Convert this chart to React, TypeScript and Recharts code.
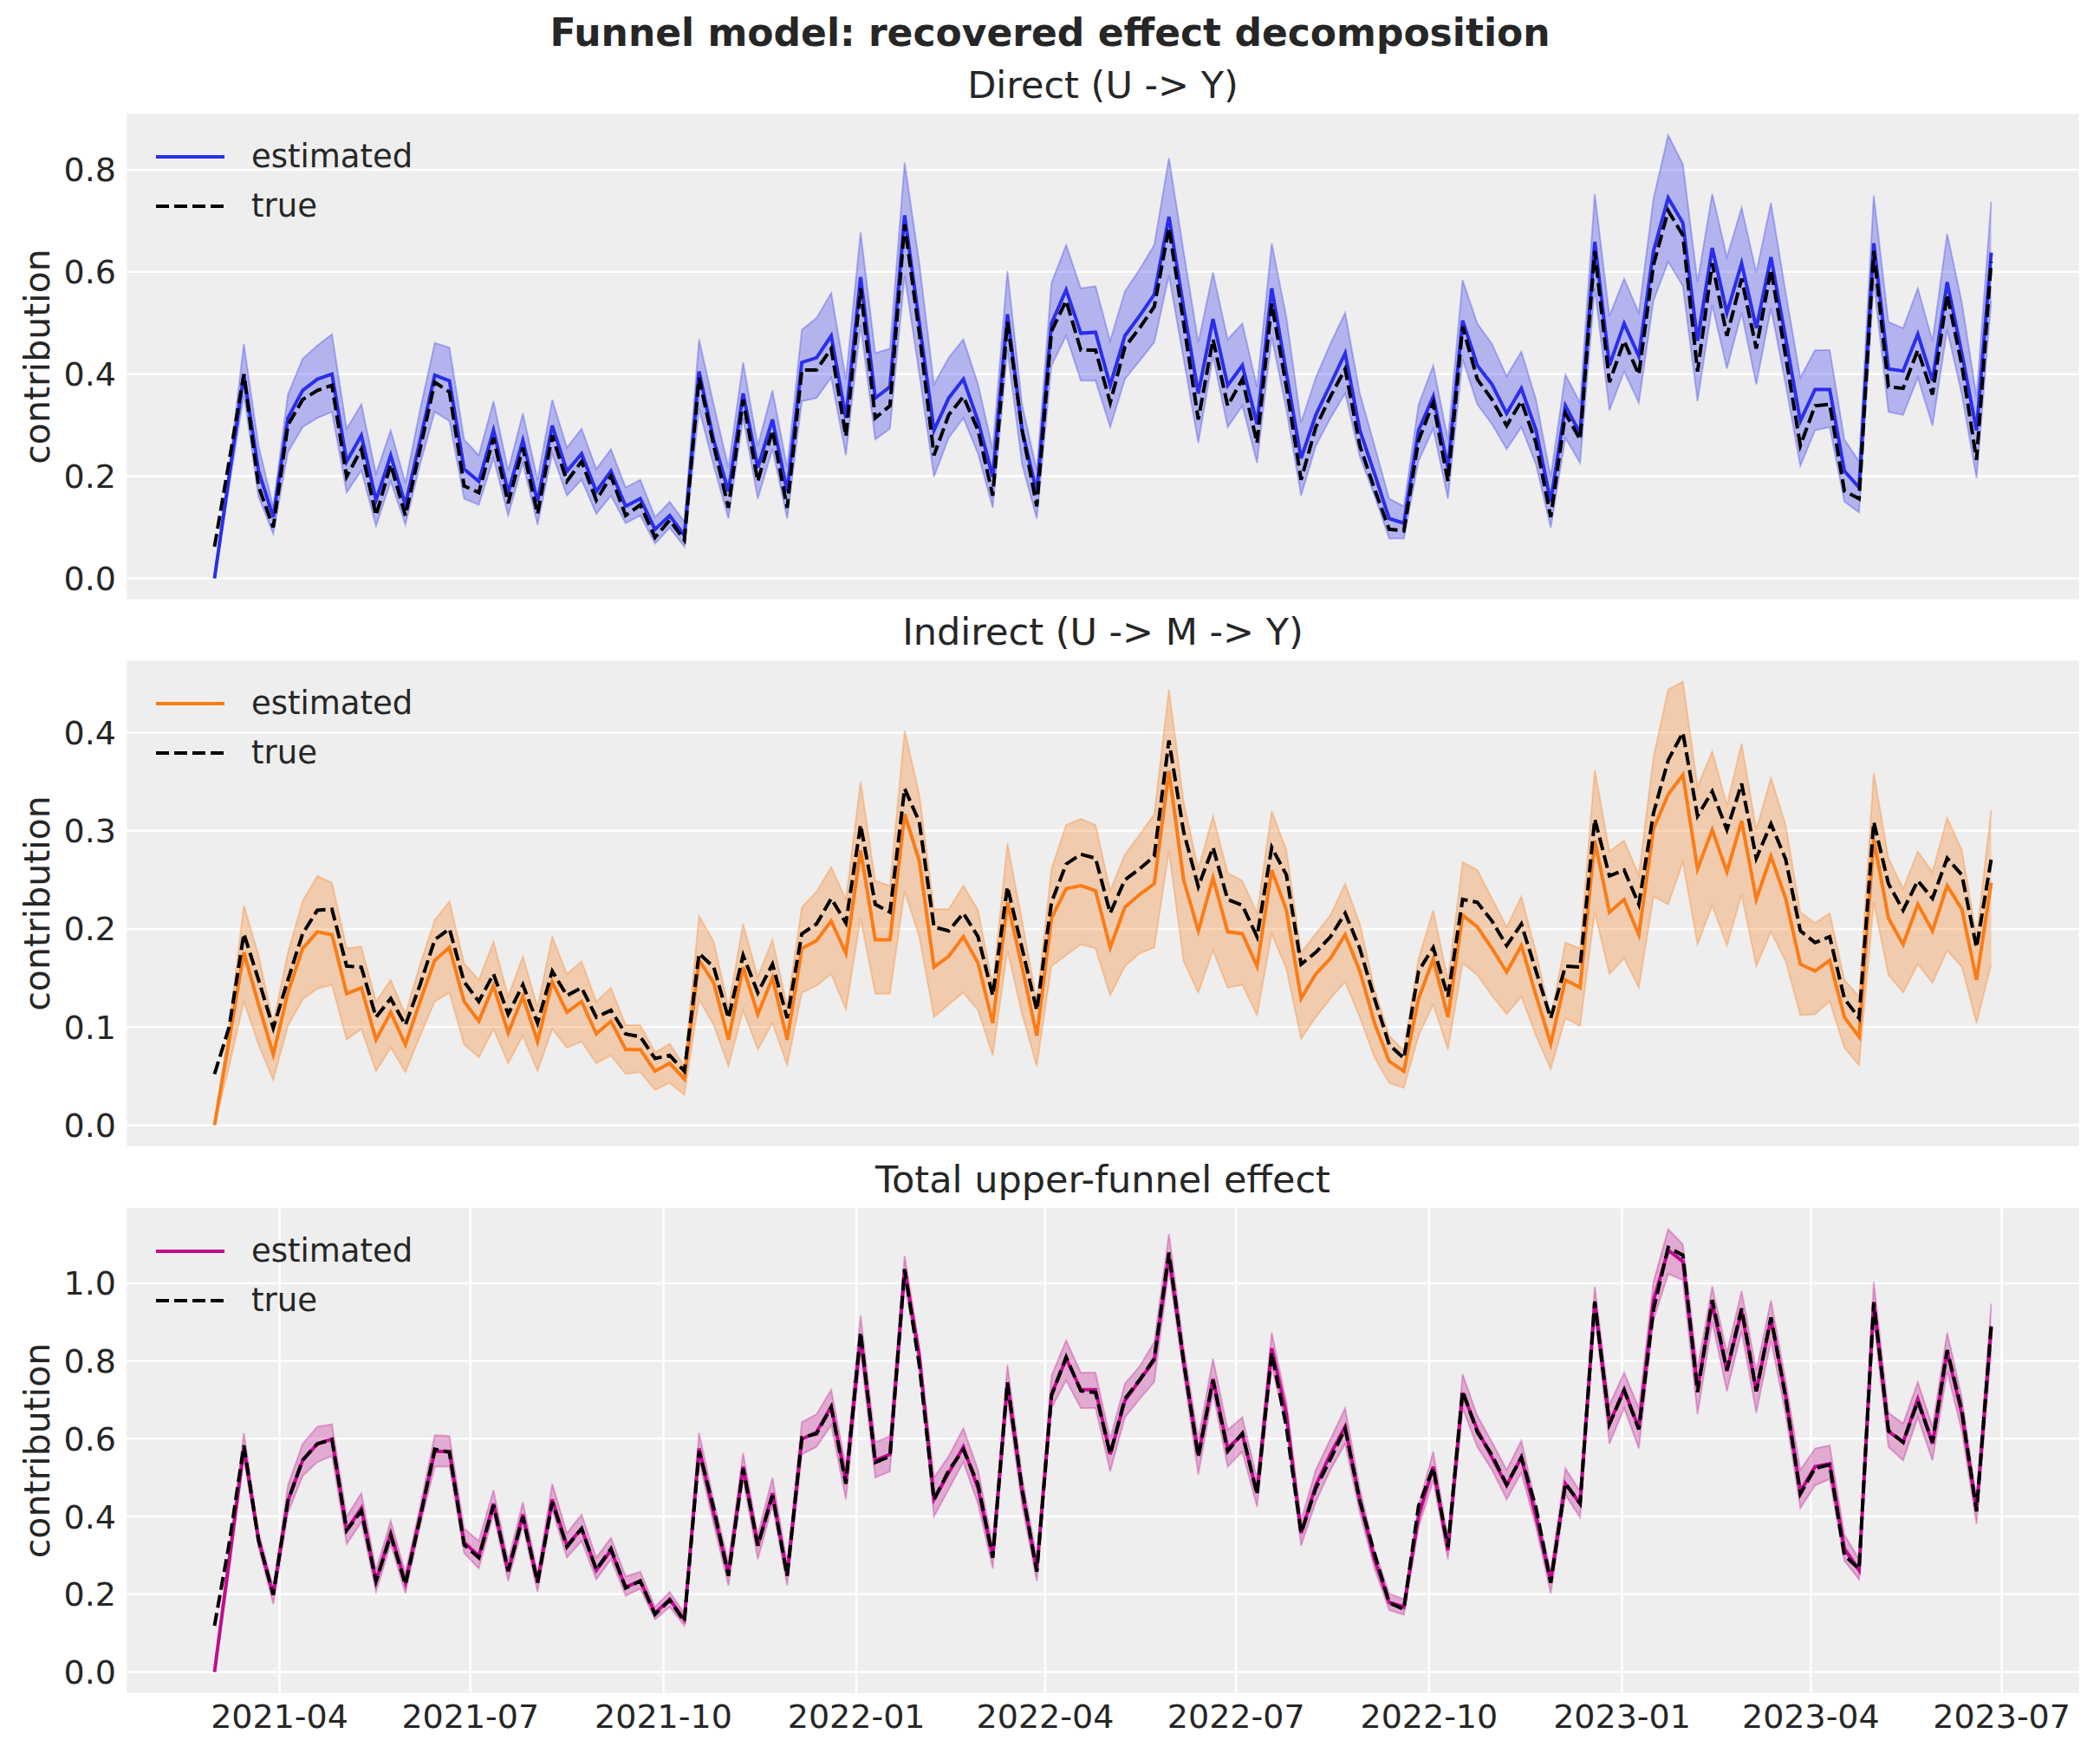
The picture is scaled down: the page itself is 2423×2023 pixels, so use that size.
import React from "react";
import { ComposedChart, Area, Line, XAxis, YAxis, CartesianGrid, Legend } from "recharts";

// weekly observations, first week starts 2021-03-01
const startDate = "2021-03-01";
const weekCount = 122;
const quarterTicks = ["2021-04", "2021-07", "2021-10", "2022-01", "2022-04", "2022-07", "2022-10", "2023-01", "2023-04", "2023-07"];

const directEst = [0, 0.2, 0.399, 0.21, 0.12, 0.314, 0.368, 0.39, 0.4, 0.229, 0.28, 0.153, 0.241, 0.144, 0.27, 0.398, 0.387, 0.214, 0.19, 0.29, 0.168, 0.27, 0.15, 0.299, 0.21, 0.244, 0.17, 0.21, 0.141, 0.156, 0.096, 0.123, 0.084, 0.405, 0.27, 0.17, 0.362, 0.217, 0.311, 0.17, 0.423, 0.432, 0.475, 0.314, 0.59, 0.353, 0.375, 0.711, 0.5, 0.29, 0.353, 0.39, 0.308, 0.199, 0.517, 0.29, 0.168, 0.499, 0.565, 0.48, 0.482, 0.378, 0.475, 0.514, 0.556, 0.708, 0.53, 0.362, 0.508, 0.378, 0.417, 0.302, 0.568, 0.402, 0.235, 0.32, 0.38, 0.441, 0.29, 0.205, 0.117, 0.108, 0.29, 0.356, 0.217, 0.505, 0.417, 0.38, 0.323, 0.372, 0.29, 0.15, 0.338, 0.284, 0.659, 0.417, 0.499, 0.435, 0.641, 0.745, 0.696, 0.465, 0.647, 0.52, 0.617, 0.49, 0.629, 0.47, 0.308, 0.37, 0.37, 0.21, 0.178, 0.656, 0.41, 0.406, 0.478, 0.387, 0.58, 0.44, 0.29, 0.638];
const directTrue = [0.062, 0.23, 0.4, 0.18, 0.1, 0.3, 0.35, 0.368, 0.378, 0.199, 0.253, 0.123, 0.223, 0.123, 0.253, 0.384, 0.365, 0.181, 0.168, 0.275, 0.147, 0.256, 0.126, 0.28, 0.19, 0.229, 0.153, 0.2, 0.123, 0.144, 0.08, 0.114, 0.075, 0.393, 0.26, 0.138, 0.35, 0.19, 0.29, 0.138, 0.408, 0.408, 0.45, 0.278, 0.568, 0.314, 0.338, 0.693, 0.48, 0.241, 0.32, 0.356, 0.29, 0.162, 0.502, 0.29, 0.141, 0.484, 0.544, 0.447, 0.447, 0.344, 0.453, 0.49, 0.532, 0.687, 0.5, 0.311, 0.468, 0.338, 0.39, 0.265, 0.538, 0.375, 0.193, 0.296, 0.356, 0.41, 0.26, 0.175, 0.096, 0.093, 0.27, 0.344, 0.19, 0.493, 0.39, 0.35, 0.299, 0.347, 0.265, 0.12, 0.323, 0.272, 0.641, 0.384, 0.465, 0.399, 0.614, 0.72, 0.672, 0.405, 0.617, 0.475, 0.587, 0.45, 0.605, 0.435, 0.26, 0.338, 0.341, 0.171, 0.156, 0.641, 0.375, 0.372, 0.447, 0.36, 0.556, 0.417, 0.232, 0.62];
const directLo = [0, 0.18, 0.36, 0.16, 0.087, 0.247, 0.296, 0.314, 0.326, 0.168, 0.211, 0.102, 0.19, 0.105, 0.223, 0.326, 0.308, 0.156, 0.144, 0.235, 0.123, 0.226, 0.105, 0.244, 0.162, 0.193, 0.126, 0.162, 0.108, 0.123, 0.068, 0.099, 0.062, 0.332, 0.22, 0.117, 0.314, 0.156, 0.253, 0.117, 0.347, 0.353, 0.393, 0.241, 0.496, 0.272, 0.293, 0.593, 0.4, 0.199, 0.275, 0.314, 0.244, 0.138, 0.447, 0.223, 0.117, 0.417, 0.475, 0.387, 0.387, 0.296, 0.39, 0.426, 0.462, 0.593, 0.43, 0.265, 0.435, 0.296, 0.338, 0.226, 0.472, 0.33, 0.162, 0.259, 0.314, 0.362, 0.238, 0.162, 0.078, 0.078, 0.23, 0.293, 0.156, 0.429, 0.341, 0.302, 0.253, 0.296, 0.223, 0.099, 0.275, 0.226, 0.568, 0.329, 0.405, 0.344, 0.544, 0.62, 0.572, 0.347, 0.535, 0.411, 0.52, 0.38, 0.529, 0.38, 0.22, 0.29, 0.296, 0.15, 0.129, 0.58, 0.326, 0.32, 0.393, 0.299, 0.487, 0.36, 0.196, 0.544];
const directHi = [0.005, 0.22, 0.459, 0.26, 0.14, 0.36, 0.43, 0.456, 0.478, 0.293, 0.341, 0.205, 0.29, 0.187, 0.33, 0.461, 0.452, 0.272, 0.241, 0.347, 0.211, 0.323, 0.193, 0.35, 0.256, 0.293, 0.214, 0.253, 0.178, 0.193, 0.12, 0.15, 0.111, 0.468, 0.34, 0.217, 0.423, 0.26, 0.368, 0.217, 0.487, 0.51, 0.559, 0.39, 0.678, 0.441, 0.45, 0.814, 0.617, 0.38, 0.432, 0.468, 0.38, 0.253, 0.602, 0.34, 0.211, 0.578, 0.653, 0.568, 0.572, 0.465, 0.562, 0.605, 0.653, 0.823, 0.64, 0.462, 0.599, 0.468, 0.499, 0.375, 0.656, 0.511, 0.305, 0.393, 0.46, 0.52, 0.362, 0.26, 0.156, 0.141, 0.34, 0.417, 0.272, 0.584, 0.499, 0.459, 0.396, 0.444, 0.35, 0.199, 0.399, 0.344, 0.753, 0.514, 0.587, 0.52, 0.744, 0.868, 0.811, 0.581, 0.753, 0.629, 0.726, 0.599, 0.735, 0.56, 0.393, 0.447, 0.447, 0.272, 0.229, 0.75, 0.502, 0.49, 0.568, 0.465, 0.675, 0.54, 0.356, 0.738];

const indirectEst = [0, 0.087, 0.176, 0.123, 0.072, 0.135, 0.18, 0.197, 0.194, 0.134, 0.14, 0.087, 0.115, 0.082, 0.126, 0.168, 0.181, 0.126, 0.106, 0.142, 0.094, 0.131, 0.085, 0.146, 0.115, 0.126, 0.093, 0.106, 0.077, 0.077, 0.055, 0.063, 0.047, 0.168, 0.145, 0.087, 0.161, 0.113, 0.15, 0.087, 0.18, 0.188, 0.208, 0.175, 0.28, 0.189, 0.189, 0.317, 0.269, 0.161, 0.172, 0.192, 0.165, 0.104, 0.227, 0.161, 0.091, 0.211, 0.241, 0.244, 0.239, 0.181, 0.222, 0.235, 0.246, 0.361, 0.25, 0.198, 0.252, 0.197, 0.195, 0.162, 0.26, 0.219, 0.129, 0.154, 0.17, 0.194, 0.157, 0.104, 0.065, 0.055, 0.129, 0.169, 0.11, 0.214, 0.202, 0.18, 0.156, 0.183, 0.132, 0.083, 0.148, 0.14, 0.29, 0.217, 0.23, 0.194, 0.302, 0.337, 0.357, 0.261, 0.301, 0.258, 0.31, 0.23, 0.274, 0.231, 0.164, 0.157, 0.168, 0.11, 0.09, 0.291, 0.211, 0.184, 0.225, 0.198, 0.244, 0.22, 0.148, 0.247];
const indirectTrue = [0.052, 0.1, 0.195, 0.148, 0.099, 0.148, 0.195, 0.219, 0.22, 0.162, 0.161, 0.11, 0.129, 0.102, 0.143, 0.189, 0.2, 0.146, 0.126, 0.154, 0.113, 0.143, 0.104, 0.157, 0.132, 0.14, 0.11, 0.117, 0.093, 0.09, 0.068, 0.071, 0.055, 0.175, 0.161, 0.109, 0.173, 0.135, 0.164, 0.109, 0.195, 0.205, 0.231, 0.206, 0.306, 0.225, 0.217, 0.343, 0.309, 0.202, 0.198, 0.216, 0.192, 0.132, 0.243, 0.18, 0.117, 0.227, 0.266, 0.276, 0.272, 0.216, 0.25, 0.261, 0.274, 0.392, 0.299, 0.243, 0.283, 0.23, 0.224, 0.192, 0.283, 0.255, 0.164, 0.176, 0.192, 0.216, 0.18, 0.129, 0.082, 0.068, 0.157, 0.181, 0.131, 0.23, 0.227, 0.208, 0.183, 0.205, 0.157, 0.109, 0.162, 0.161, 0.312, 0.254, 0.26, 0.225, 0.318, 0.372, 0.4, 0.315, 0.34, 0.301, 0.348, 0.272, 0.307, 0.271, 0.198, 0.186, 0.192, 0.129, 0.109, 0.309, 0.246, 0.219, 0.249, 0.231, 0.272, 0.255, 0.181, 0.271];
const indirectLo = [0, 0.06, 0.126, 0.082, 0.046, 0.101, 0.128, 0.139, 0.143, 0.087, 0.098, 0.055, 0.079, 0.054, 0.091, 0.126, 0.135, 0.082, 0.069, 0.098, 0.063, 0.091, 0.055, 0.098, 0.079, 0.085, 0.063, 0.071, 0.052, 0.054, 0.036, 0.043, 0.031, 0.128, 0.102, 0.06, 0.117, 0.077, 0.104, 0.061, 0.135, 0.142, 0.154, 0.118, 0.211, 0.134, 0.134, 0.238, 0.192, 0.11, 0.123, 0.135, 0.117, 0.071, 0.178, 0.113, 0.06, 0.162, 0.173, 0.184, 0.18, 0.132, 0.162, 0.175, 0.181, 0.279, 0.167, 0.135, 0.178, 0.14, 0.143, 0.112, 0.195, 0.159, 0.088, 0.11, 0.129, 0.146, 0.11, 0.069, 0.043, 0.038, 0.091, 0.123, 0.077, 0.165, 0.153, 0.132, 0.113, 0.131, 0.091, 0.057, 0.109, 0.101, 0.217, 0.154, 0.17, 0.14, 0.233, 0.225, 0.268, 0.184, 0.224, 0.183, 0.235, 0.162, 0.197, 0.167, 0.112, 0.113, 0.126, 0.079, 0.061, 0.227, 0.153, 0.135, 0.164, 0.145, 0.178, 0.161, 0.104, 0.164];
const indirectHi = [0.002, 0.1, 0.224, 0.173, 0.104, 0.176, 0.228, 0.254, 0.247, 0.18, 0.182, 0.126, 0.148, 0.113, 0.164, 0.209, 0.228, 0.165, 0.148, 0.187, 0.131, 0.172, 0.12, 0.192, 0.154, 0.167, 0.126, 0.14, 0.102, 0.102, 0.074, 0.083, 0.06, 0.213, 0.187, 0.12, 0.205, 0.151, 0.189, 0.121, 0.222, 0.238, 0.263, 0.23, 0.35, 0.249, 0.244, 0.402, 0.337, 0.22, 0.22, 0.244, 0.219, 0.142, 0.287, 0.208, 0.126, 0.261, 0.306, 0.312, 0.306, 0.239, 0.276, 0.296, 0.317, 0.444, 0.329, 0.261, 0.315, 0.257, 0.249, 0.216, 0.32, 0.28, 0.176, 0.195, 0.214, 0.246, 0.205, 0.139, 0.091, 0.076, 0.17, 0.219, 0.148, 0.268, 0.26, 0.231, 0.202, 0.233, 0.176, 0.11, 0.186, 0.18, 0.362, 0.279, 0.29, 0.255, 0.375, 0.444, 0.452, 0.345, 0.381, 0.326, 0.389, 0.301, 0.354, 0.306, 0.217, 0.206, 0.216, 0.148, 0.131, 0.359, 0.272, 0.241, 0.279, 0.258, 0.313, 0.28, 0.192, 0.321];

const totalEst = [0, 0.287, 0.575, 0.341, 0.198, 0.44, 0.544, 0.587, 0.599, 0.365, 0.421, 0.234, 0.357, 0.23, 0.4, 0.567, 0.567, 0.333, 0.298, 0.433, 0.258, 0.405, 0.23, 0.444, 0.325, 0.369, 0.262, 0.313, 0.218, 0.234, 0.151, 0.187, 0.135, 0.575, 0.409, 0.254, 0.528, 0.325, 0.46, 0.25, 0.599, 0.617, 0.683, 0.492, 0.865, 0.544, 0.56, 1.036, 0.813, 0.444, 0.512, 0.579, 0.472, 0.298, 0.742, 0.464, 0.262, 0.714, 0.806, 0.726, 0.726, 0.56, 0.698, 0.75, 0.802, 1.071, 0.798, 0.556, 0.754, 0.575, 0.611, 0.46, 0.833, 0.663, 0.357, 0.48, 0.56, 0.631, 0.44, 0.29, 0.179, 0.167, 0.4, 0.528, 0.313, 0.718, 0.623, 0.552, 0.48, 0.552, 0.4, 0.234, 0.484, 0.433, 0.952, 0.639, 0.726, 0.627, 0.956, 1.085, 1.056, 0.73, 0.948, 0.774, 0.929, 0.722, 0.909, 0.71, 0.464, 0.528, 0.536, 0.317, 0.262, 0.952, 0.619, 0.591, 0.702, 0.587, 0.825, 0.663, 0.417, 0.885];
const totalTrue = [0.119, 0.33, 0.583, 0.338, 0.199, 0.44, 0.545, 0.587, 0.598, 0.364, 0.414, 0.233, 0.352, 0.225, 0.396, 0.573, 0.565, 0.327, 0.294, 0.429, 0.26, 0.399, 0.23, 0.437, 0.322, 0.369, 0.263, 0.317, 0.216, 0.234, 0.148, 0.185, 0.13, 0.568, 0.421, 0.247, 0.523, 0.325, 0.454, 0.247, 0.603, 0.613, 0.681, 0.484, 0.874, 0.539, 0.555, 1.036, 0.789, 0.443, 0.518, 0.572, 0.482, 0.294, 0.745, 0.47, 0.258, 0.711, 0.81, 0.723, 0.719, 0.56, 0.703, 0.751, 0.806, 1.079, 0.799, 0.554, 0.751, 0.568, 0.614, 0.457, 0.821, 0.63, 0.357, 0.472, 0.548, 0.626, 0.44, 0.304, 0.178, 0.161, 0.427, 0.525, 0.321, 0.723, 0.617, 0.558, 0.482, 0.552, 0.422, 0.229, 0.485, 0.433, 0.953, 0.638, 0.725, 0.624, 0.932, 1.092, 1.072, 0.72, 0.957, 0.776, 0.935, 0.722, 0.912, 0.706, 0.458, 0.524, 0.533, 0.3, 0.265, 0.95, 0.621, 0.591, 0.696, 0.591, 0.828, 0.672, 0.413, 0.891];
const totalLo = [0, 0.26, 0.552, 0.32, 0.175, 0.409, 0.504, 0.54, 0.556, 0.329, 0.385, 0.206, 0.329, 0.202, 0.375, 0.528, 0.528, 0.306, 0.266, 0.405, 0.234, 0.377, 0.206, 0.417, 0.294, 0.337, 0.238, 0.29, 0.196, 0.214, 0.135, 0.167, 0.119, 0.544, 0.38, 0.222, 0.496, 0.29, 0.429, 0.222, 0.56, 0.579, 0.635, 0.444, 0.821, 0.5, 0.516, 1.0, 0.79, 0.4, 0.47, 0.54, 0.432, 0.266, 0.706, 0.428, 0.234, 0.679, 0.75, 0.679, 0.679, 0.516, 0.655, 0.702, 0.746, 1.036, 0.766, 0.508, 0.718, 0.528, 0.567, 0.425, 0.786, 0.631, 0.325, 0.437, 0.52, 0.587, 0.409, 0.266, 0.159, 0.147, 0.373, 0.492, 0.29, 0.679, 0.579, 0.52, 0.444, 0.512, 0.373, 0.202, 0.456, 0.397, 0.921, 0.587, 0.679, 0.575, 0.905, 1.024, 1.008, 0.663, 0.901, 0.722, 0.877, 0.667, 0.853, 0.663, 0.421, 0.48, 0.496, 0.286, 0.238, 0.905, 0.579, 0.544, 0.655, 0.544, 0.774, 0.619, 0.381, 0.829];
const totalHi = [0.005, 0.31, 0.615, 0.36, 0.218, 0.48, 0.587, 0.631, 0.637, 0.4, 0.46, 0.262, 0.389, 0.254, 0.425, 0.609, 0.607, 0.369, 0.337, 0.468, 0.286, 0.437, 0.254, 0.484, 0.357, 0.405, 0.294, 0.345, 0.246, 0.258, 0.167, 0.206, 0.151, 0.615, 0.44, 0.282, 0.563, 0.353, 0.5, 0.278, 0.643, 0.663, 0.726, 0.528, 0.917, 0.591, 0.607, 1.071, 0.837, 0.5, 0.555, 0.627, 0.52, 0.325, 0.79, 0.504, 0.29, 0.762, 0.853, 0.77, 0.77, 0.599, 0.742, 0.786, 0.849, 1.127, 0.837, 0.599, 0.806, 0.623, 0.655, 0.496, 0.873, 0.694, 0.389, 0.52, 0.599, 0.679, 0.472, 0.313, 0.202, 0.187, 0.428, 0.567, 0.341, 0.766, 0.659, 0.591, 0.52, 0.595, 0.428, 0.258, 0.524, 0.464, 0.992, 0.687, 0.77, 0.679, 1.004, 1.139, 1.1, 0.782, 0.992, 0.821, 0.98, 0.774, 0.956, 0.75, 0.52, 0.575, 0.583, 0.353, 0.29, 1.004, 0.667, 0.639, 0.746, 0.631, 0.873, 0.706, 0.444, 0.948];

const DAY = 86400000;
const t0 = Date.parse(startDate + "T00:00:00Z");
const dates = Array.from({ length: weekCount }, (_, i) => t0 + i * 7 * DAY);
const tickValues = quarterTicks.map((s) => Date.parse(s + "-01T00:00:00Z"));
const span = dates[dates.length - 1] - dates[0];
const xDomain = [dates[0] - span * 0.05, dates[dates.length - 1] + span * 0.05];

const FONT = "DejaVu Sans";
const TEXT = "#262626";
const W = 2423;
const PLOT_LEFT = 145;
const PLOT_RIGHT = 2400;

function buildRows(est: number[], truth: number[], lo: number[], hi: number[]) {
  return dates.map((t, i) => ({ t, est: est[i], truth: truth[i], band: [lo[i], hi[i]] }));
}

const fmtMonth = (v: number) => {
  const d = new Date(v);
  return `${d.getUTCFullYear()}-${String(d.getUTCMonth() + 1).padStart(2, "0")}`;
};

const panels = [
  {
    title: "Direct (U -> Y)",
    color: "#2a2eec",
    top: 130,
    height: 563,
    domain: [-0.0434, 0.912],
    ticks: [0, 0.2, 0.4, 0.6, 0.8],
    rows: buildRows(directEst, directTrue, directLo, directHi),
  },
  {
    title: "Indirect (U -> M -> Y)",
    color: "#fa7c17",
    top: 761,
    height: 563,
    domain: [-0.0226, 0.4746],
    ticks: [0, 0.1, 0.2, 0.3, 0.4],
    rows: buildRows(indirectEst, indirectTrue, indirectLo, indirectHi),
  },
  {
    title: "Total upper-funnel effect",
    color: "#c10c90",
    top: 1393,
    height: 562,
    domain: [-0.057, 1.196],
    ticks: [0, 0.2, 0.4, 0.6, 0.8, 1.0],
    rows: buildRows(totalEst, totalTrue, totalLo, totalHi),
  },
];

function LegendBox({ color }: { color: string }) {
  const row = { display: "flex", alignItems: "center", height: 57 } as const;
  const label = { fontFamily: FONT, fontSize: 37, color: TEXT, marginLeft: 31, lineHeight: "57px" };
  return (
    <div>
      <div style={row}>
        <svg width={79} height={10}>
          <line x1={0} y1={5} x2={79} y2={5} stroke={color} strokeWidth={4} />
        </svg>
        <span style={label}>estimated</span>
      </div>
      <div style={row}>
        <svg width={79} height={10}>
          <line x1={0} y1={5} x2={79} y2={5} stroke="#000" strokeWidth={4} strokeDasharray="15 6" />
        </svg>
        <span style={label}>true</span>
      </div>
    </div>
  );
}

function Panel({ p, showX }: { p: (typeof panels)[number]; showX: boolean }) {
  const axisH = showX ? 70 : 0;
  return (
    <div style={{ position: "absolute", left: 0, top: p.top }}>
      <ComposedChart width={W} height={p.height + axisH} data={p.rows} margin={{ top: 0, right: W - PLOT_RIGHT, bottom: 0, left: 0 }}>
        <CartesianGrid fill="#eeeeee" stroke="#ffffff" strokeWidth={2.5} />
        <XAxis
          dataKey="t"
          type="number"
          scale="time"
          domain={xDomain}
          ticks={tickValues}
          tickFormatter={fmtMonth}
          allowDataOverflow
          axisLine={false}
          tickLine={false}
          tickSize={0}
          tickMargin={12}
          height={axisH}
          tick={showX ? { fontSize: 38, fill: TEXT, fontFamily: FONT } : false}
        />
        <YAxis
          type="number"
          domain={p.domain}
          ticks={p.ticks}
          allowDataOverflow
          width={PLOT_LEFT}
          axisLine={false}
          tickLine={false}
          tickSize={0}
          tickMargin={11}
          tickFormatter={(v: number) => v.toFixed(1)}
          tick={{ fontSize: 38, fill: TEXT, fontFamily: FONT }}
        />
        <Area
          type="linear"
          dataKey="band"
          fill={p.color}
          fillOpacity={0.3}
          stroke={p.color}
          strokeOpacity={0.3}
          strokeWidth={2}
          dot={false}
          activeDot={false}
          isAnimationActive={false}
        />
        <Line type="linear" dataKey="est" stroke={p.color} strokeWidth={4} dot={false} activeDot={false} isAnimationActive={false} />
        <Line
          type="linear"
          dataKey="truth"
          stroke="#000000"
          strokeWidth={4}
          strokeDasharray="15 6"
          dot={false}
          activeDot={false}
          isAnimationActive={false}
        />
        <Legend
          layout="vertical"
          align="center"
          verticalAlign="middle"
          wrapperStyle={{ left: 180, top: 22, width: "auto" }}
          content={() => <LegendBox color={p.color} />}
        />
      </ComposedChart>
    </div>
  );
}

export default function App() {
  const midX = (PLOT_LEFT + PLOT_RIGHT) / 2;
  return (
    <div style={{ position: "absolute", left: 0, top: 0, width: W, height: 2023, background: "#ffffff" }}>
      {panels.map((p, i) => (
        <Panel key={p.title} p={p} showX={i === panels.length - 1} />
      ))}
      <svg width={W} height={2023} style={{ position: "absolute", left: 0, top: 0, pointerEvents: "none" }}>
        <text x={W / 2} y={53} textAnchor="middle" fontFamily={FONT} fontWeight="bold" fontSize={44} fill={TEXT}>
          Funnel model: recovered effect decomposition
        </text>
        {panels.map((p) => (
          <g key={p.title}>
            <text x={midX} y={p.top - 17} textAnchor="middle" fontFamily={FONT} fontSize={43} fill={TEXT}>
              {p.title}
            </text>
            <text
              x={57}
              y={p.top + p.height / 2}
              transform={`rotate(-90 57 ${p.top + p.height / 2})`}
              textAnchor="middle"
              fontFamily={FONT}
              fontSize={41}
              fill={TEXT}
            >
              contribution
            </text>
          </g>
        ))}
      </svg>
    </div>
  );
}
